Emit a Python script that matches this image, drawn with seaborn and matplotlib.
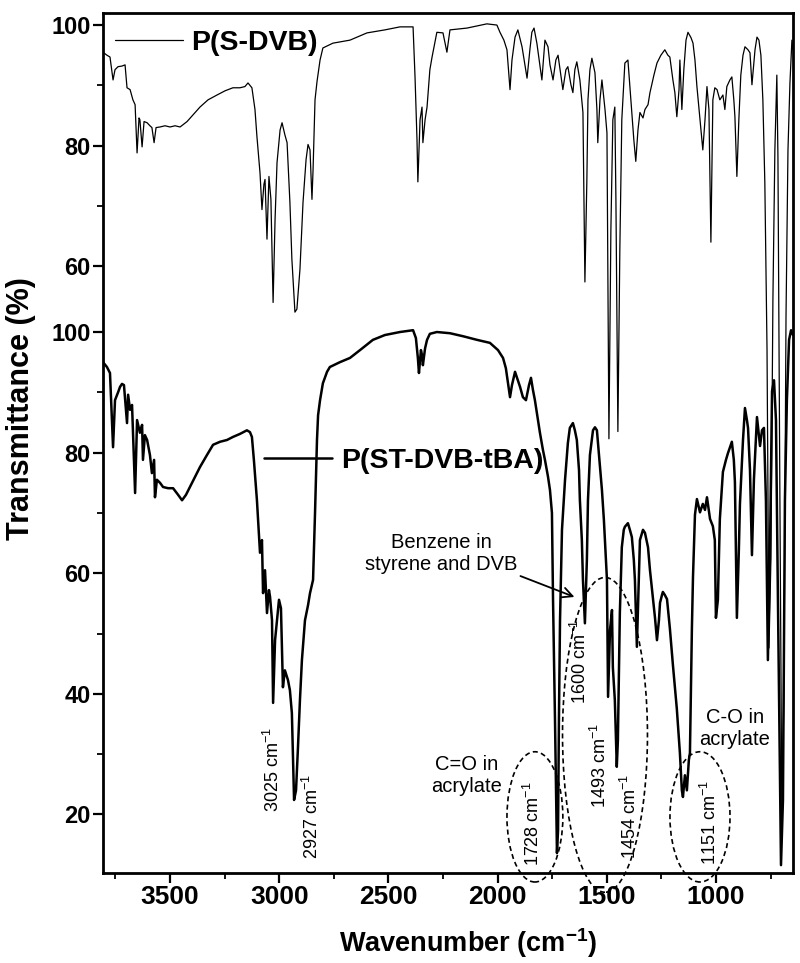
import matplotlib
matplotlib.use("Agg")
import matplotlib.pyplot as plt
import seaborn as sns
import pandas as pd
from matplotlib.patches import Ellipse
from matplotlib.lines import Line2D

# P(S-DVB) spectrum (own transmittance scale)
wn_sdvb = [3807, 3789, 3775, 3761, 3752, 3738, 3720, 3706, 3697, 3683, 3670, 3660, 3651, 3642,
           3638, 3628, 3619, 3605, 3592, 3583, 3573, 3564, 3546, 3523, 3500, 3477, 3454, 3422,
           3395, 3363, 3326, 3285, 3248, 3212, 3180, 3157, 3143, 3125, 3111, 3102, 3088, 3079,
           3070, 3065, 3056, 3047, 3038, 3028, 3019, 3010, 2996, 2987, 2974, 2964, 2951, 2942,
           2928, 2919, 2905, 2891, 2877, 2868, 2859, 2850, 2845, 2836, 2827, 2813, 2800, 2754,
           2676, 2598, 2516, 2447, 2387, 2378, 2369, 2365, 2355, 2346, 2342, 2332, 2323, 2310,
           2300, 2278, 2250, 2232, 2218, 2140, 2049, 2003, 1989, 1971, 1957, 1943, 1934, 1920,
           1907, 1888, 1865, 1852, 1843, 1833, 1820, 1797, 1783, 1769, 1760, 1746, 1733, 1723,
           1710, 1701, 1687, 1678, 1664, 1655, 1646, 1637, 1623, 1609, 1600, 1591, 1586, 1577,
           1568, 1554, 1545, 1541, 1531, 1522, 1508, 1499, 1490, 1481, 1472, 1463, 1458, 1449,
           1440, 1431, 1417, 1403, 1385, 1376, 1367, 1357, 1348, 1334, 1325, 1311, 1302, 1284,
           1270, 1252, 1234, 1220, 1211, 1197, 1188, 1179, 1169, 1165, 1156, 1147, 1137, 1128,
           1114, 1105, 1096, 1087, 1073, 1060, 1050, 1041, 1032, 1023, 1014, 1005, 995, 982,
           968, 959, 950, 936, 927, 918, 913, 904, 895, 886, 876, 867, 853, 844, 835, 821, 812,
           803, 794, 785, 776, 766, 757, 748, 739, 730, 721, 716, 707, 698, 689, 679, 670, 661,
           652, 647]
t_sdvb = [95.5, 95.0, 94.7, 90.9, 92.6, 93.1, 93.2, 93.4, 89.6, 89.3, 87.6, 86.8, 78.8, 84.6,
          84.3, 79.8, 84.0, 83.8, 83.3, 83.0, 80.5, 83.0, 83.1, 83.3, 83.1, 83.3, 83.1, 84.0,
          85.1, 86.4, 87.6, 88.4, 89.1, 89.6, 89.6, 89.8, 90.4, 89.6, 86.0, 81.5, 75.5, 69.4,
          73.6, 74.4, 64.5, 74.9, 71.1, 54.0, 67.8, 77.2, 82.6, 83.8, 81.8, 80.5, 70.6, 61.2,
          52.4, 52.9, 59.5, 70.6, 77.7, 80.2, 79.3, 71.1, 76.0, 87.6, 90.6, 94.2, 96.2, 97.0,
          97.5, 98.7, 99.2, 99.7, 99.7, 91.4, 81.0, 74.0, 84.3, 86.4, 80.5, 84.3, 86.4, 92.6,
          94.7, 98.8, 98.7, 95.5, 99.2, 99.5, 100.2, 100.0, 98.8, 97.5, 95.9, 89.3, 94.2, 98.0,
          99.2, 96.4, 91.2, 95.9, 98.8, 99.5, 97.0, 90.9, 97.5, 96.4, 93.4, 90.9, 94.2, 95.0,
          91.7, 89.3, 92.6, 93.1, 90.1, 88.8, 92.6, 93.9, 90.9, 85.5, 57.4, 74.4, 87.6, 92.6,
          94.5, 92.1, 86.0, 80.5, 87.6, 90.9, 86.0, 82.1, 31.4, 66.1, 84.3, 86.4, 71.1, 32.6,
          62.8, 84.3, 93.7, 94.2, 85.5, 81.0, 77.4, 82.6, 85.5, 84.6, 86.0, 86.8, 88.8, 91.7,
          93.7, 95.0, 95.9, 95.0, 94.7, 90.9, 88.8, 84.8, 89.3, 94.2, 86.0, 92.6, 97.5, 98.8,
          97.9, 97.0, 94.2, 89.8, 84.3, 79.3, 84.3, 89.8, 86.0, 64.0, 87.6, 89.6, 89.3, 87.6,
          88.4, 86.0, 89.8, 90.9, 91.4, 87.6, 84.8, 74.9, 84.3, 91.7, 95.0, 96.4, 95.9, 95.4,
          90.1, 95.9, 98.0, 97.5, 95.0, 87.6, 73.9, 46.3, -3.3, 11.6, 54.5, 79.3, 91.7, 78.2,
          21.5, -31.4, -11.6, 51.7, 79.3, 90.4, 97.5, 95.9]

# P(ST-DVB-tBA) spectrum, lower trace
wn_tba = [3807, 3789, 3775, 3761, 3752, 3738, 3729, 3720, 3711, 3697, 3692, 3683, 3674, 3660,
          3651, 3638, 3628, 3624, 3615, 3605, 3592, 3583, 3573, 3569, 3560, 3546, 3532, 3509,
          3486, 3463, 3445, 3427, 3409, 3386, 3363, 3331, 3303, 3271, 3239, 3212, 3180, 3148,
          3134, 3125, 3116, 3102, 3088, 3079, 3074, 3065, 3056, 3047, 3042, 3033, 3028, 3019,
          3010, 3001, 2992, 2983, 2974, 2960, 2951, 2942, 2932, 2923, 2914, 2905, 2896, 2882,
          2868, 2859, 2845, 2836, 2827, 2822, 2813, 2800, 2781, 2768, 2722, 2676, 2630, 2571,
          2516, 2447, 2387, 2374, 2365, 2360, 2351, 2346, 2342, 2332, 2323, 2310, 2278, 2218,
          2158, 2094, 2035, 1998, 1975, 1962, 1943, 1934, 1920, 1907, 1897, 1884, 1870, 1856,
          1847, 1838, 1829, 1815, 1806, 1792, 1783, 1769, 1760, 1751, 1746, 1737, 1728, 1723,
          1719, 1714, 1705, 1691, 1678, 1669, 1655, 1646, 1637, 1627, 1623, 1614, 1609, 1600,
          1591, 1586, 1577, 1563, 1554, 1545, 1531, 1522, 1513, 1504, 1499, 1494, 1485, 1476,
          1472, 1463, 1454, 1449, 1440, 1431, 1422, 1417, 1403, 1394, 1385, 1376, 1371, 1362,
          1353, 1348, 1334, 1325, 1311, 1302, 1289, 1279, 1270, 1261, 1256, 1247, 1243, 1234,
          1224, 1211, 1197, 1179, 1165, 1156, 1151, 1142, 1133, 1124, 1119, 1110, 1105, 1096,
          1087, 1073, 1060, 1050, 1041, 1027, 1014, 1005, 1000, 991, 982, 968, 954, 945, 927,
          918, 913, 904, 895, 890, 876, 867, 858, 853, 844, 835, 826, 812, 798, 789, 780, 771,
          762, 753, 743, 734, 725, 716, 702, 693, 684, 675, 665, 656, 647]
t_tba = [95.0, 94.2, 93.2, 80.9, 88.7, 90.0, 90.9, 91.4, 91.2, 84.9, 89.6, 87.1, 87.9, 73.3,
         85.4, 83.3, 84.6, 78.8, 82.9, 82.1, 79.6, 76.6, 78.8, 72.6, 75.5, 75.0, 74.3, 74.1,
         74.1, 73.0, 72.1, 73.0, 74.3, 76.0, 77.6, 79.6, 81.3, 81.8, 82.1, 82.6, 83.1, 83.7,
         83.4, 82.6, 78.8, 72.1, 63.4, 65.5, 56.7, 60.5, 53.4, 57.2, 56.1, 52.2, 38.5, 48.9,
         52.2, 55.6, 54.2, 41.1, 43.9, 42.3, 40.6, 36.8, 22.4, 24.0, 31.2, 39.0, 45.6, 52.2,
         54.7, 56.7, 58.9, 70.0, 82.1, 86.2, 88.7, 91.5, 93.4, 94.2, 95.0, 95.7, 97.0, 98.7,
         99.5, 100.0, 100.3, 99.0, 95.7, 93.2, 97.0, 96.2, 94.5, 97.3, 98.7, 99.7, 100.0, 99.8,
         99.3, 98.7, 98.2, 97.0, 95.7, 94.0, 89.2, 91.2, 93.4, 92.0, 90.9, 89.2, 88.7, 91.2,
         92.4, 90.4, 88.7, 85.4, 83.3, 80.4, 78.8, 76.0, 73.8, 70.0, 55.6, 35.7, 13.6, 17.4,
         35.7, 52.2, 67.2, 75.5, 81.6, 84.1, 84.9, 83.7, 82.1, 77.1, 72.1, 65.5, 58.9, 51.7,
         62.2, 72.1, 79.6, 83.7, 84.2, 83.7, 77.6, 73.8, 68.8, 62.2, 58.9, 39.5, 50.6, 53.9,
         44.4, 39.0, 27.9, 32.3, 53.4, 64.3, 67.2, 67.7, 68.3, 67.2, 66.0, 62.2, 58.9, 47.8,
         58.9, 65.5, 67.2, 66.7, 64.3, 60.5, 56.1, 52.6, 48.9, 52.2, 55.1, 56.4, 56.9, 56.4,
         55.7, 50.9, 44.8, 37.5, 30.2, 24.0, 22.9, 26.5, 24.0, 29.0, 30.2, 50.9, 59.4, 69.7,
         72.3, 70.1, 71.5, 70.5, 72.6, 69.0, 67.8, 65.5, 52.6, 55.6, 69.0, 76.8, 78.8, 79.9, 81.8,
         78.8, 75.1, 52.6, 63.8, 71.5, 82.1, 87.4, 85.4, 84.1, 77.1, 63.0, 75.5, 85.9, 81.1,
         83.7, 84.1, 72.1, 45.6, 62.2, 90.2, 92.0, 85.4, 55.6, 11.6, 22.4, 72.1, 88.7, 98.7,
         100.3, 99.5]

# vertical offset of the upper trace and the tick labels shown on the shared axis
offset = 50.9
ytick_vals = [20, 40, 60, 80, 100, 60 + offset, 80 + offset, 100 + offset]
ytick_text = ["20", "40", "60", "80", "100", "60", "80", "100"]
yminor_vals = [30, 50, 70, 90, 70 + offset, 90 + offset]
xtick_vals = [3500, 3000, 2500, 2000, 1500, 1000]
xminor_vals = [3750, 3250, 2750, 2250, 1750, 1250, 750]

# peak labels: text, wavenumber, transmittance of label centre
peak_labels = [("3025", 3028, 27.4), ("2927", 2850, 19.6), ("1728", 1838, 18.4),
               ("1600", 1623, 45.3), ("1493", 1531, 28.2), ("1454", 1394, 19.6),
               ("1151", 1027, 18.7)]

df_up = pd.DataFrame({"wn": wn_sdvb, "T": [t + offset for t in t_sdvb]})
df_lo = pd.DataFrame({"wn": wn_tba, "T": t_tba})

sns.set_theme(style="ticks")
plt.rcParams["font.family"] = ["Liberation Sans", "DejaVu Sans"]
plt.rcParams["mathtext.fontset"] = "custom"
plt.rcParams["mathtext.rm"] = "Liberation Sans"
plt.rcParams["mathtext.bf"] = "Liberation Sans:bold"
for k in ["text.color", "axes.labelcolor", "xtick.color", "ytick.color", "axes.edgecolor"]:
    plt.rcParams[k] = "black"

fig = plt.figure(figsize=(8, 9.63), dpi=100)
ax = fig.add_axes([0.12875, 0.0935, 0.8625, 0.893])

sns.lineplot(data=df_up, x="wn", y="T", sort=False, estimator=None, color="black",
             lw=0.9, ax=ax)
sns.lineplot(data=df_lo, x="wn", y="T", sort=False, estimator=None, color="black",
             lw=1.8, ax=ax)

ax.set_xlim(3807, 647)
ax.set_ylim(10.3, 152.9)
ax.set_xticks(xtick_vals)
ax.set_xticks(xminor_vals, minor=True)
ax.set_xticklabels([str(v) for v in xtick_vals], fontsize=19, fontweight="bold")
ax.set_yticks(ytick_vals)
ax.set_yticklabels(ytick_text, fontsize=17, fontweight="bold")
ax.set_yticks(yminor_vals, minor=True)
ax.tick_params(which="major", direction="out", length=7, width=1.6, color="black", pad=2)
ax.tick_params(which="minor", direction="out", length=4, width=1.3, color="black")
for s in ax.spines.values():
    s.set_linewidth(2)

ax.set_xlabel("Wavenumber (cm$^{\\mathbf{-1}}$)", fontsize=19.5, fontweight="bold")
ax.xaxis.set_label_coords(0.529, -0.062)
ax.set_ylabel("Transmittance (%)", fontsize=22, fontweight="bold")
ax.yaxis.set_label_coords(-0.097, 0.54)

# legends drawn as two separate keys
h_up = Line2D([], [], color="black", lw=0.9)
h_lo = Line2D([], [], color="black", lw=1.8)
leg1 = ax.legend([h_up], ["P(S-DVB)"], loc="center left", bbox_to_anchor=(0.017, 0.965),
                 frameon=False, handlelength=2.4, handletextpad=0.3, borderpad=0,
                 borderaxespad=0, prop={"weight": "bold", "size": 20.5})
ax.add_artist(leg1)
ax.legend([h_lo], ["P(ST-DVB-tBA)"], loc="center left", bbox_to_anchor=(0.233, 0.479),
          frameon=False, handlelength=2.4, handletextpad=0.3, borderpad=0,
          borderaxespad=0, prop={"weight": "bold", "size": 20.5})

# annotations
for txt, x, y in peak_labels:
    ax.text(x, y, txt + " cm$^{-1}$", rotation=90, ha="center", va="center", fontsize=13)

ax.text(2259, 63.2, "Benzene in\nstyrene and DVB", ha="center", va="center",
        fontsize=14.5, linespacing=1.2)
ax.annotate("", xy=(1636, 55.9), xytext=(1907, 59.7),
            arrowprops=dict(arrowstyle="->", color="black", lw=1.3, mutation_scale=18))
ax.text(2140, 26.5, "C=O in\nacrylate", ha="center", va="center", fontsize=14.5,
        linespacing=1.2)
ax.text(913, 34.3, "C-O in\nacrylate", ha="center", va="center", fontsize=14.5,
        linespacing=1.2)

for cx, cy, w, h in [(1829, 19.6, 256, 21.6), (1508, 33.2, 389, 52.2), (1073, 19.6, 275, 21.6)]:
    ax.add_patch(Ellipse((cx, cy), w, h, fill=False, ls=(0, (3, 2)), lw=1.2,
                         ec="black", clip_on=False))

fig.savefig("out.png", dpi=100)
